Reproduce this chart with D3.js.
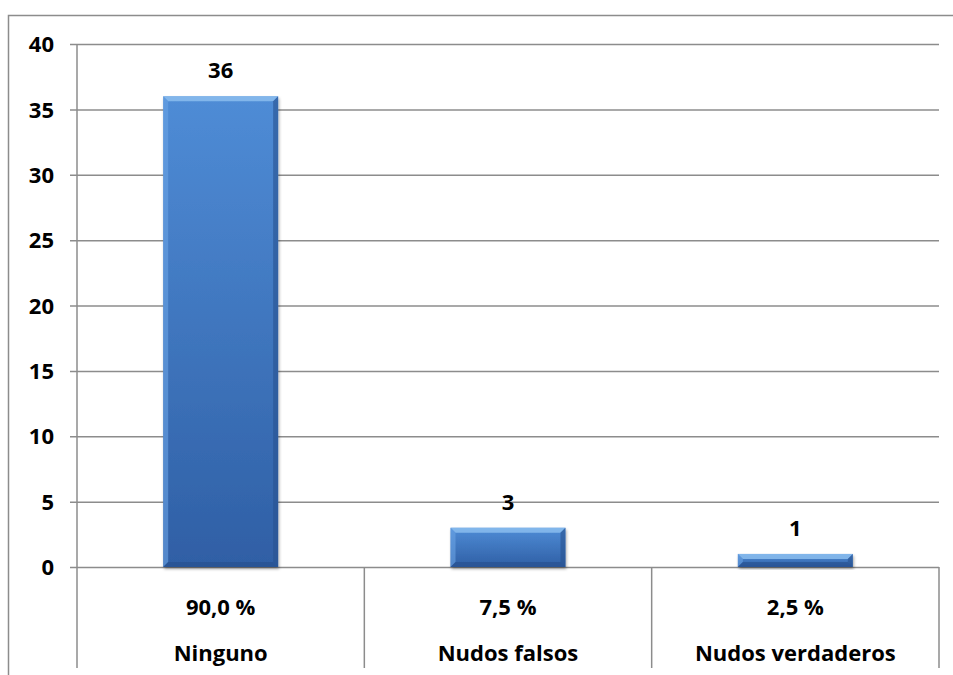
<!DOCTYPE html>
<html>
<head>
<meta charset="utf-8">
<script src="https://cdn.jsdelivr.net/npm/d3@7"></script>
<style>
  body { margin: 0; background: #fff; }
  svg text { font-family: "Open Sans", Lato, sans-serif; font-weight: bold; fill: #000; }
</style>
</head>
<body>
<div id="chart"></div>
<script>
const categories = ['Ninguno', 'Nudos falsos', 'Nudos verdaderos']
const counts = [36, 3, 1]
const percentLabels = ['90,0 %', '7,5 %', '2,5 %']
const yTicks = [0, 5, 10, 15, 20, 25, 30, 35, 40]

const width = 953
const height = 675
const margin = { top: 44, right: 14, bottom: 108, left: 77 }
const innerWidth = width - margin.left - margin.right
const innerHeight = height - margin.top - margin.bottom

const svg = d3.select('#chart')
  .append('svg')
  .attr('width', width)
  .attr('height', height)

// outer frame (only left and top edges are visible in the crop)
svg.append('path')
  .attr('d', `M8.5,${height} L8.5,15.5 L${width},15.5`)
  .attr('fill', 'none')
  .attr('stroke', '#8c8c8c')
  .attr('stroke-width', 1.5)

const defs = svg.append('defs')
const grad = defs.append('linearGradient')
  .attr('id', 'barGrad')
  .attr('x1', 0).attr('y1', 0).attr('x2', 0).attr('y2', 1)
grad.append('stop').attr('offset', '0%').attr('stop-color', '#4f8cd6')
grad.append('stop').attr('offset', '100%').attr('stop-color', '#2f5fa5')

const shadow = defs.append('filter').attr('id', 'shadow')
  .attr('x', '-10%').attr('y', '-10%').attr('width', '130%').attr('height', '130%')
shadow.append('feDropShadow')
  .attr('dx', 1).attr('dy', 2).attr('stdDeviation', 1.5)
  .attr('flood-color', '#000').attr('flood-opacity', 0.35)

const g = svg.append('g')
  .attr('transform', `translate(${margin.left}, ${margin.top})`)

const x = d3.scaleBand()
  .domain(categories)
  .range([0, innerWidth])
  .paddingInner(0)
  .paddingOuter(0)

const y = d3.scaleLinear()
  .domain([0, 40])
  .range([innerHeight, 0])

// Y axis with gridlines
const yAxis = g.append('g')
  .call(d3.axisLeft(y).tickValues(yTicks).tickSize(-innerWidth).tickSizeOuter(0).tickPadding(23))
yAxis.select('.domain').remove()
yAxis.selectAll('line')
  .attr('x1', -7)
  .attr('stroke', '#8c8c8c')
  .attr('stroke-width', 1.5)
yAxis.selectAll('text')
  .style('font-size', '22px')
  .attr('dy', '0.35em')

// category separators (below the plot)
const bottomExtent = 101
const bounds = categories.map(c => x(c)).concat([innerWidth])
g.selectAll('.sep')
  .data(bounds)
  .join('line')
  .attr('class', 'sep')
  .attr('x1', d => d).attr('x2', d => d)
  .attr('y1', (d, i) => i === 0 ? 0 : innerHeight)
  .attr('y2', innerHeight + bottomExtent)
  .attr('stroke', '#8c8c8c')
  .attr('stroke-width', 1.5)

// bars
const barW = x.bandwidth() * 0.4
const bars = g.selectAll('.bar')
  .data(counts)
  .join('g')
  .attr('class', 'bar')
  .attr('transform', (d, i) => `translate(${x(categories[i]) + x.bandwidth() / 2 - barW / 2}, ${y(d)})`)

bars.append('rect')
  .attr('width', barW)
  .attr('height', d => innerHeight - y(d))
  .attr('fill', 'url(#barGrad)')
  .attr('filter', 'url(#shadow)')

// bevel highlights
const bev = 5
bars.append('path')
  .attr('d', d => {
    const h = innerHeight - y(d)
    const b = Math.min(bev, h / 2)
    return `M0,0 L${barW},0 L${barW - b},${b} L${b},${b} Z`
  })
  .attr('fill', '#8ec0f0')
  .attr('opacity', 0.8)
bars.append('path')
  .attr('d', d => {
    const h = innerHeight - y(d)
    const b = Math.min(bev, h / 2)
    return `M0,0 L${b},${b} L${b},${h - b} L0,${h} Z`
  })
  .attr('fill', '#6aa3e4')
  .attr('opacity', 0.6)
bars.append('path')
  .attr('d', d => {
    const h = innerHeight - y(d)
    const b = Math.min(bev, h / 2)
    return `M${barW},0 L${barW - b},${b} L${barW - b},${h - b} L${barW},${h} Z`
  })
  .attr('fill', '#28518f')
  .attr('opacity', 0.6)
bars.append('path')
  .attr('d', d => {
    const h = innerHeight - y(d)
    const b = Math.min(bev, h / 2)
    return `M0,${h} L${b},${h - b} L${barW - b},${h - b} L${barW},${h} Z`
  })
  .attr('fill', '#264f8c')
  .attr('opacity', 0.6)

// value labels
g.selectAll('.val')
  .data(counts)
  .join('text')
  .attr('class', 'val')
  .attr('x', (d, i) => x(categories[i]) + x.bandwidth() / 2)
  .attr('y', d => y(d) - 18)
  .attr('text-anchor', 'middle')
  .style('font-size', '22px')
  .text(d => d)

// percent row
g.selectAll('.pct')
  .data(percentLabels)
  .join('text')
  .attr('class', 'pct')
  .attr('x', (d, i) => x(categories[i]) + x.bandwidth() / 2)
  .attr('y', innerHeight + 48)
  .attr('text-anchor', 'middle')
  .style('font-size', '22px')
  .text(d => d)

// category names
g.selectAll('.cat')
  .data(categories)
  .join('text')
  .attr('class', 'cat')
  .attr('x', d => x(d) + x.bandwidth() / 2)
  .attr('y', innerHeight + 94)
  .attr('text-anchor', 'middle')
  .style('font-size', '22px')
  .text(d => d)
</script>
</body>
</html>
